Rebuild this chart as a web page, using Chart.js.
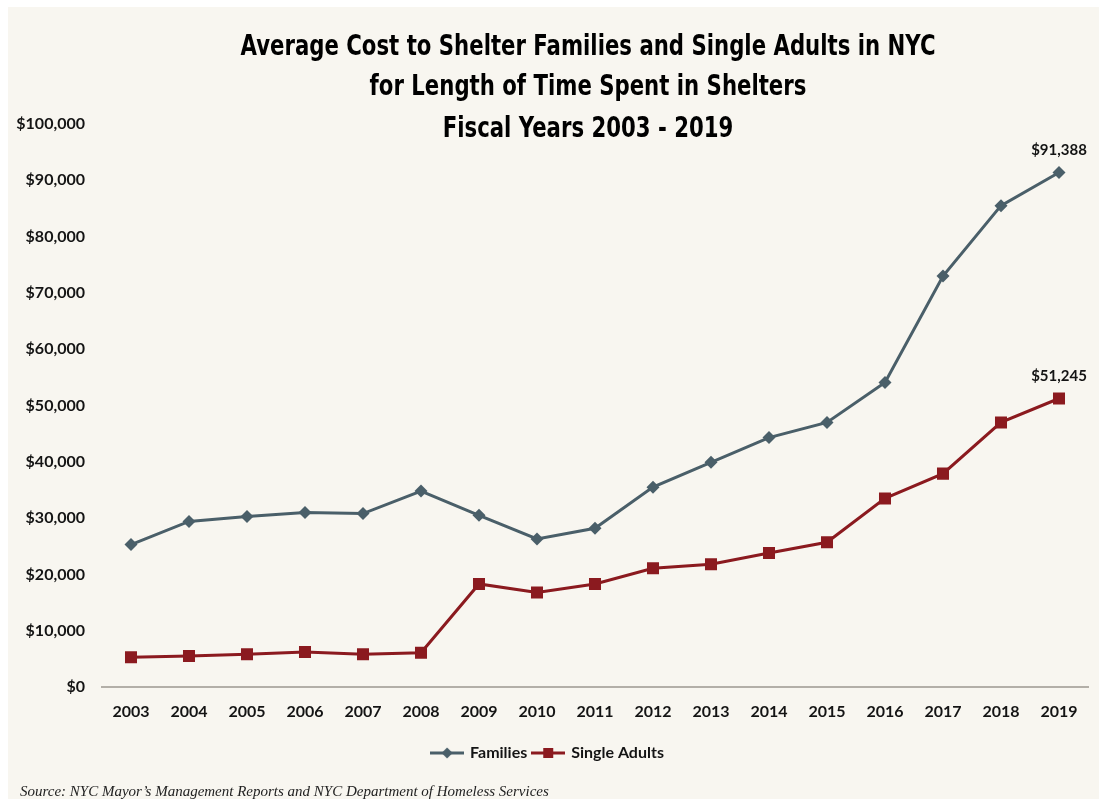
<!DOCTYPE html>
<html>
<head>
<meta charset="utf-8">
<title>Average Cost to Shelter Families and Single Adults in NYC</title>
<script src="https://cdn.jsdelivr.net/npm/chart.js@4.4.1/dist/chart.umd.min.js"></script>
<style>
  html, body { margin: 0; padding: 0; background: #ffffff; }
  body { width: 1099px; height: 799px; position: relative; overflow: hidden; }
  #wrap { position: absolute; left: 8px; top: 7px; width: 1091px; height: 792px; background: #f8f6f0; }
  canvas { display: block; }
</style>
</head>
<body>
<div id="wrap"><canvas id="chart" width="1091" height="792"></canvas></div>
<script>
// Fiscal years on the category axis
const years = ['2003', '2004', '2005', '2006', '2007', '2008', '2009', '2010', '2011',
               '2012', '2013', '2014', '2015', '2016', '2017', '2018', '2019'];

// Average cost per shelter stay, in dollars
const familiesCost = [25300, 29400, 30300, 31000, 30800, 34800, 30500, 26300, 28200,
                      35500, 39900, 44300, 47000, 54100, 73000, 85500, 91388];
const singleAdultsCost = [5300, 5500, 5800, 6200, 5800, 6100, 18300, 16800, 18300,
                          21100, 21800, 23800, 25700, 33500, 37900, 47000, 51245];

const seriesNames = ['Families', 'Single Adults'];
const titleLines = [
  'Average Cost to Shelter Families and Single Adults in NYC',
  'for Length of Time Spent in Shelters',
  'Fiscal Years 2003 - 2019'
];
const sourceNote = 'Source: NYC Mayor\u2019s Management Reports and NYC Department of Homeless Services';

const familiesColor = '#4a5f69';
const singlesColor = '#8b1a1f';
const inkColor = '#141414';
const sansStack = 'Lato, "Open Sans", sans-serif';
const money = v => '$' + Number(v).toLocaleString('en-US');

// Small line-with-marker swatch used in the legend
function legendSwatch(color, shape) {
  const c = document.createElement('canvas');
  c.width = 34; c.height = 14;
  const g = c.getContext('2d');
  g.strokeStyle = color; g.fillStyle = color; g.lineWidth = 3;
  g.beginPath(); g.moveTo(0, 7); g.lineTo(34, 7); g.stroke();
  g.beginPath();
  if (shape === 'diamond') {
    g.moveTo(17, 1.5); g.lineTo(22.5, 7); g.lineTo(17, 12.5); g.lineTo(11.5, 7); g.closePath();
  } else {
    g.rect(12, 2, 10, 10);
  }
  g.fill();
  return c;
}
const swatches = [legendSwatch(familiesColor, 'diamond'), legendSwatch(singlesColor, 'square')];

// Title (condensed bold) and source line drawn onto the canvas
const headerFooter = {
  id: 'headerFooter',
  afterDraw(chart) {
    const { ctx } = chart;
    ctx.save();
    ctx.fillStyle = '#000000';
    ctx.textAlign = 'center';
    ctx.textBaseline = 'middle';
    ctx.font = 'bold 28px "Liberation Sans Narrow", "DejaVu Sans", sans-serif';
    const squeeze = 695 / ctx.measureText(titleLines[0]).width;
    const cx = 580;
    const ys = [41, 81, 123];
    titleLines.forEach((t, i) => {
      ctx.save();
      ctx.translate(cx, ys[i]);
      ctx.scale(squeeze, 1);
      ctx.fillText(t, 0, 0);
      ctx.restore();
    });
    ctx.textAlign = 'left';
    ctx.textBaseline = 'alphabetic';
    ctx.fillStyle = '#222222';
    ctx.font = 'italic 15px "Liberation Serif", "DejaVu Serif", serif';
    ctx.fillText(sourceNote, 12, 789);
    ctx.restore();
  }
};

// Value label above the final point of each series
const endLabels = {
  id: 'endLabels',
  afterDatasetsDraw(chart) {
    const { ctx } = chart;
    ctx.save();
    ctx.fillStyle = inkColor;
    ctx.font = 'bold 15px ' + sansStack;
    ctx.textAlign = 'center';
    ctx.textBaseline = 'alphabetic';
    chart.data.datasets.forEach((ds, i) => {
      const meta = chart.getDatasetMeta(i);
      const last = ds.data.length - 1;
      const pt = meta.data[last];
      ctx.fillText(money(ds.data[last]), pt.x, pt.y - 17);
    });
    ctx.restore();
  }
};

new Chart(document.getElementById('chart'), {
  type: 'line',
  data: {
    labels: years,
    datasets: [
      {
        label: seriesNames[0],
        data: familiesCost,
        borderColor: familiesColor,
        backgroundColor: familiesColor,
        borderWidth: 3,
        pointStyle: 'rectRot',
        pointRadius: 6.5,
        pointHoverRadius: 6.5,
        pointBorderWidth: 0,
        tension: 0
      },
      {
        label: seriesNames[1],
        data: singleAdultsCost,
        borderColor: singlesColor,
        backgroundColor: singlesColor,
        borderWidth: 3,
        pointStyle: 'rect',
        pointRadius: 8.5,
        pointHoverRadius: 8.5,
        pointBorderWidth: 0,
        tension: 0
      }
    ]
  },
  options: {
    responsive: false,
    animation: false,
    devicePixelRatio: 1,
    layout: { padding: { top: 117, right: 11, left: 0, bottom: 28 } },
    scales: {
      x: {
        offset: true,
        grid: { display: false, drawTicks: false },
        border: { display: true, color: '#b3afa8', width: 2 },
        ticks: { color: inkColor, font: { family: sansStack, size: 16, weight: 'bold' }, padding: 15, maxRotation: 0 },
        afterFit(scale) { scale.height = 52; }
      },
      y: {
        min: 0,
        max: 100000,
        grid: { display: false, drawTicks: false },
        border: { display: false },
        ticks: {
          stepSize: 10000,
          color: inkColor,
          font: { family: sansStack, size: 16, weight: 'bold' },
          padding: 17,
          callback: v => money(v)
        },
        afterFit(scale) { scale.width = 94; }
      }
    },
    plugins: {
      title: { display: false },
      tooltip: { enabled: false },
      legend: {
        display: true,
        position: 'bottom',
        labels: {
          usePointStyle: true,
          pointStyleWidth: 30,
          padding: 6,
          color: inkColor,
          font: { family: sansStack, size: 16, weight: 'bold' },
          generateLabels(chart) {
            const items = Chart.defaults.plugins.legend.labels.generateLabels(chart);
            return items.map((it, i) => Object.assign(it, { pointStyle: swatches[i] }));
          }
        }
      }
    }
  },
  plugins: [headerFooter, endLabels]
});
</script>
</body>
</html>
